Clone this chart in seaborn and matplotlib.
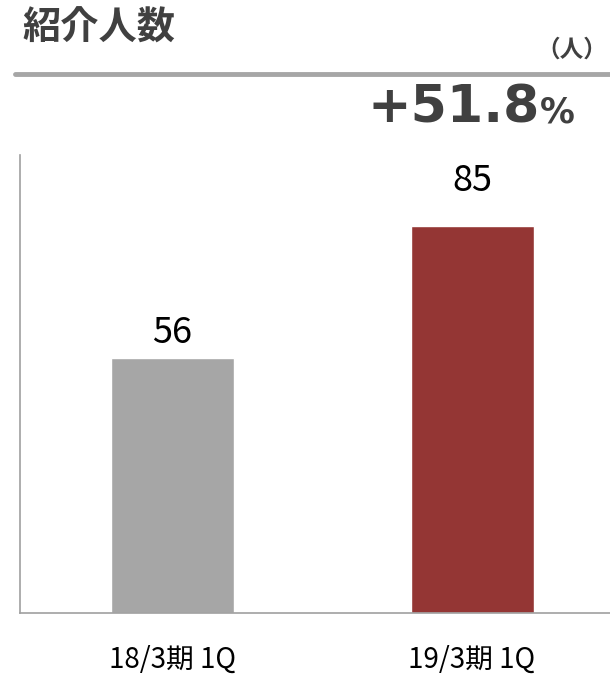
import matplotlib
matplotlib.use('Agg')
import matplotlib.pyplot as plt
import seaborn as sns
import pandas as pd

categories = ['18/3期 1Q', '19/3期 1Q']
values = [56, 85]
bar_colors = ['#A6A6A6', '#943634']
title = '紹介人数'
unit = '（人）'
growth = '+51.8'

# gap between bar top and its value label, in data units
label_gap = [1.6, 5.8]

sns.set_style('white')
plt.rcParams['font.family'] = ['Noto Sans CJK JP', 'DejaVu Sans']

df = pd.DataFrame({'period': categories, 'count': values})

fig = plt.figure(figsize=(6.1, 6.75), dpi=100)
ax = fig.add_axes([0.033, 0.092, 0.967, 0.678])

sns.barplot(data=df, x='period', y='count', hue='period', palette=bar_colors,
            width=0.41, legend=False, ax=ax, saturation=1)

for i, v in enumerate(values):
    ax.text(i, v + label_gap[i], str(v), ha='center', va='bottom', fontsize=26, color='black')

ax.set_ylim(0, 100.5)
ax.set_xlim(-0.507, 1.46)
ax.set_yticks([])
ax.set_xlabel('')
ax.set_ylabel('')
ax.tick_params(axis='x', length=0, pad=23, labelsize=20)
for lbl in ax.get_xticklabels():
    lbl.set_color('black')
for side in ['top', 'right']:
    ax.spines[side].set_visible(False)
for side in ['left', 'bottom']:
    ax.spines[side].set_color('#A0A0A0')
    ax.spines[side].set_linewidth(1.2)

fig.text(0.036, 0.958, title, fontsize=27.5, fontweight='bold', color='#404040',
         ha='left', va='center')
fig.text(0.996, 0.926, unit, fontsize=17, fontweight='bold', color='#404040',
         ha='right', va='center')
fig.add_artist(plt.Line2D([0.025, 1.0], [0.891, 0.891], color='#A6A6A6',
                          linewidth=3.5, transform=fig.transFigure))
fig.text(0.885, 0.839, growth, fontsize=37.5, fontweight='bold', color='#404040',
         ha='right', va='center', family=['DejaVu Sans'])
fig.text(0.885, 0.834, '%', fontsize=25, fontweight='bold', color='#404040',
         ha='left', va='center', family=['DejaVu Sans'])

fig.savefig('out.png', dpi=100)
